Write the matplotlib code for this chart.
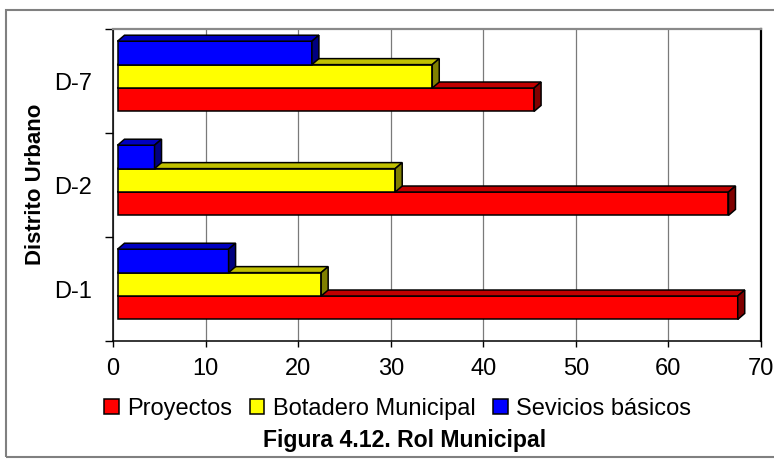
import matplotlib
matplotlib.use("Agg")
import matplotlib.pyplot as plt
from matplotlib.patches import Polygon, Rectangle, Patch
from matplotlib.transforms import ScaledTranslation

# Rol municipal por distrito urbano
districts = ["D-1", "D-2", "D-7"]
proyectos = [67, 66, 45]
botadero = [22, 30, 34]
servicios = [12, 4, 21]
series_names = ["Proyectos", "Botadero Municipal", "Sevicios básicos"]
x_ticks = [0, 10, 20, 30, 40, 50, 60, 70]

plt.rcParams['font.family'] = ['Liberation Sans', 'DejaVu Sans']

W, H = 774, 459
fig = plt.figure(figsize=(W / 100, H / 100), dpi=100)
ax = fig.add_axes([113 / W, 1 - 341 / H, (761 - 113) / W, (341 - 29) / H])
ax.set_xlim(0, 70)
ax.set_ylim(-0.5, 2.5)

# (values, front colour, top colour, side colour, offset within the group)
series = [
    (proyectos, '#FF0000', '#C00000', '#800000', -0.18),
    (botadero, '#FFFF00', '#C0C000', '#808000', 0.045),
    (servicios, '#0000FF', '#0000C0', '#000080', 0.27),
]
bar_h = 0.225
depth_x = 7 / (648 / 70)     # bar depth, in x data units
depth_y = 6 / 104            # bar depth, in y data units
shifted = ax.transData + ScaledTranslation(4.5 / 100, 0, fig.dpi_scale_trans)
edge_kw = dict(edgecolor='black', linewidth=1.1, joinstyle='miter')

for k, (vals, c_front, c_top, c_side, off) in enumerate(series):
    z = 3 + k
    for i, v in enumerate(vals):
        yc = i + off
        y0, y1 = yc - bar_h / 2, yc + bar_h / 2
        ax.barh(yc, v, height=bar_h, color=c_front, transform=shifted,
                zorder=z, **edge_kw)
        top = Polygon([(0, y1), (v, y1), (v + depth_x, y1 + depth_y),
                       (depth_x, y1 + depth_y)], closed=True,
                      facecolor=c_top, transform=shifted, zorder=z, **edge_kw)
        side = Polygon([(v, y0), (v + depth_x, y0 + depth_y),
                        (v + depth_x, y1 + depth_y), (v, y1)], closed=True,
                       facecolor=c_side, transform=shifted, zorder=z, **edge_kw)
        ax.add_patch(top)
        ax.add_patch(side)

ax.set_xlim(0, 70)
ax.set_ylim(-0.5, 2.5)

# x axis
ax.set_xticks(x_ticks)
ax.set_xticklabels([str(t) for t in x_ticks])
ax.tick_params(axis='x', direction='out', length=4, width=1, pad=8,
               labelsize=17, colors='black')
ax.xaxis.grid(True, color='#7a7a7a', linewidth=0.9)
ax.set_axisbelow(True)

# y axis: labels centred on each group, ticks on the group boundaries
ax.set_yticks([0, 1, 2])
ax.set_yticklabels(districts)
ax.set_yticks([-0.5, 0.5, 1.5, 2.5], minor=True)
ax.tick_params(axis='y', which='major', length=0, pad=15, labelsize=17)
ax.tick_params(axis='y', which='minor', direction='out', length=6, width=1)

for side_name in ('left', 'bottom'):
    ax.spines[side_name].set_color('black')
    ax.spines[side_name].set_linewidth(1.1)
ax.spines['right'].set_color('black')
ax.spines['right'].set_linewidth(1.6)
ax.spines['top'].set_color('#8a8a8a')
ax.spines['top'].set_linewidth(1.6)

fig.text(35.5 / W, 1 - 184 / H, 'Distrito Urbano', rotation=90,
         ha='center', va='center', fontsize=16, fontweight='bold')

handles = [Patch(facecolor=s[1], edgecolor='black', linewidth=1.1) for s in series]
fig.legend(handles, series_names, loc='center', bbox_to_anchor=(397.5 / W, 1 - 409 / H),
           ncol=3, frameon=False, fontsize=17, handlelength=0.62, handleheight=0.62,
           handletextpad=0.35, columnspacing=0.75, borderpad=0, borderaxespad=0)

fig.text(405 / W, 1 - 441 / H, 'Figura 4.12. Rol Municipal', ha='center',
         va='center', fontsize=16.6, fontweight='bold')

fig.patches.append(Rectangle((6 / W, 2 / H), 1.0, 447 / H, transform=fig.transFigure,
                             fill=False, edgecolor='#808080', linewidth=1.5))

fig.savefig('out.png', dpi=100)
